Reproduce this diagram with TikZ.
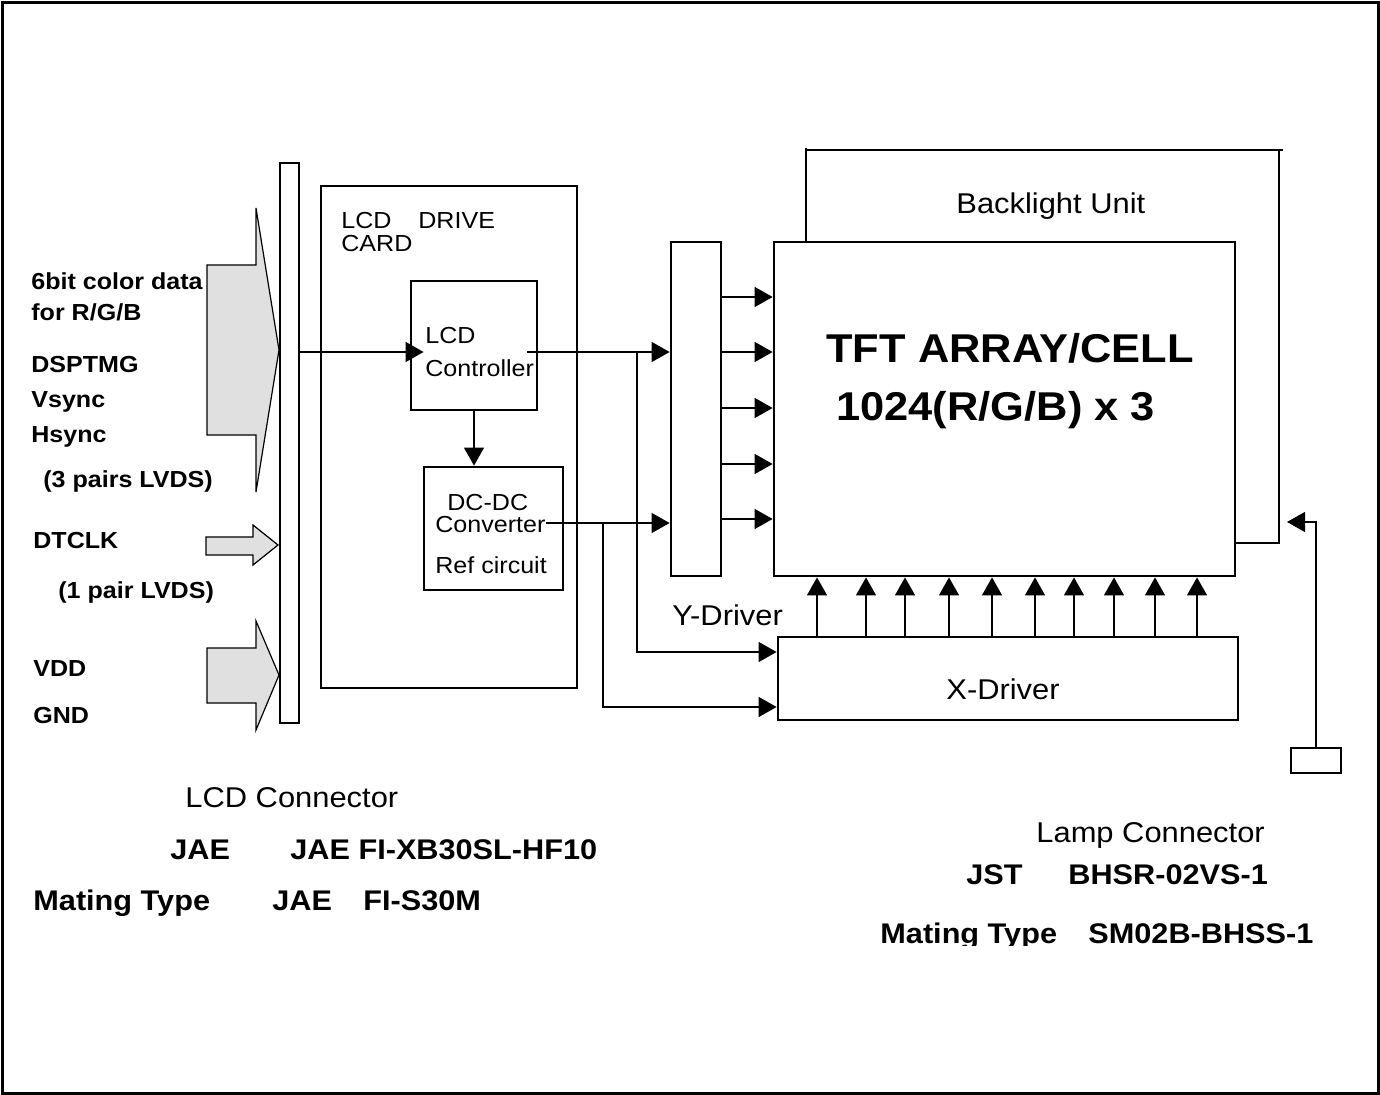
\documentclass[tikz,border=0pt]{standalone}
\usepackage{fontspec}
\setmainfont{Liberation Sans}
\usepackage{graphicx}
\usepackage{tikz}
\usetikzlibrary{arrows.meta}
\definecolor{arrowgray}{RGB}{224,224,224}
\newcommand{\hs}[1]{\scalebox{1.08}[1]{#1}}

\begin{document}
\begin{tikzpicture}[x=0.5pt, y=-0.5pt,
    box/.style={draw, line width=1.4pt, inner sep=0pt},
    wire/.style={line width=0.6pt},
    arr/.style={wire, -{Triangle[length=9pt,width=10pt]}},
    txt/.style={inner sep=0pt, anchor=base west},
    lbltxt/.style={txt, font=\fontsize{11.6}{13}\selectfont\bfseries},
    smalltxt/.style={txt, font=\fontsize{11.6}{13}\selectfont},
    largetxt/.style={txt, font=\fontsize{14.3}{16}\selectfont},
    boldtxt/.style={txt, font=\fontsize{14.2}{16}\selectfont\bfseries},
    titletxt/.style={txt, font=\fontsize{20.1}{22}\selectfont\bfseries},
    bigarrow/.style={draw, line width=0.6pt, fill=arrowgray}]
    \useasboundingbox (0,0) rectangle (1380,1095);
    \draw[line width=1.5pt] (2.5,2.5) rectangle (1378.5,1093.5);

    % Input signals
    \draw[bigarrow] (207,265) -- (256,265) -- (256,208) -- (279,350) -- (256,492) -- (256,435) -- (207,435) -- cycle;
    \draw[bigarrow] (206,537) -- (253,537) -- (253,525) -- (278,545) -- (253,565) -- (253,555) -- (206,555) -- cycle;
    \draw[bigarrow] (207,648) -- (256,648) -- (256,621) -- (279,675) -- (256,730) -- (256,703) -- (207,703) -- cycle;
    \node[lbltxt] (sigA) at (31,290) {\hs{6bit color data}};
    \node[lbltxt] (sigB) at (31,321) {\hs{for R/G/B}};
    \node[lbltxt] (sigC) at (31,373) {\hs{DSPTMG}};
    \node[lbltxt] (sigD) at (31,408) {\hs{Vsync}};
    \node[lbltxt] (sigE) at (31,443) {\hs{Hsync}};
    \node[lbltxt] (sigF) at (43,488) {\hs{(3 pairs LVDS)}};
    \node[lbltxt] (sigG) at (33,549) {\hs{DTCLK}};
    \node[lbltxt] (sigH) at (58,599) {\hs{(1 pair LVDS)}};
    \node[lbltxt] (sigI) at (33,676) {\hs{VDD}};
    \node[lbltxt] (sigJ) at (33,723) {\hs{GND}};

    % Boxes
    \node[box, line width=0.6pt, minimum width=9.5pt, minimum height=280pt] (conn) at (289.5,443) {};
    \node[box, minimum width=128pt, minimum height=251pt] (card) at (449,437) {};
    \node[box, minimum width=63pt, minimum height=64.5pt] (ctrl) at (474,345.5) {};
    \node[box, minimum width=69.5pt, minimum height=61.5pt] (dcdc) at (493.5,528.5) {};
    \node[box, minimum width=25pt, minimum height=167pt] (ydrv) at (696,409) {};
    \node[box, minimum width=230.5pt, minimum height=167pt] (tft) at (1004.5,409) {};
    \node[box, minimum width=230pt, minimum height=41.5pt] (xdrv) at (1008,678.5) {};
    \node[box, line width=0.6pt, minimum width=25pt, minimum height=12.5pt] (lamp) at (1316,760.5) {};

    % Box texts
    \node[smalltxt] (cardA) at (341,229) {\hs{LCD}};
    \node[smalltxt] (cardB) at (418,229) {\hs{DRIVE}};
    \node[smalltxt] (cardC) at (341,252) {\hs{CARD}};
    \node[smalltxt] (ctrlA) at (425,344) {\hs{LCD}};
    \node[smalltxt] (ctrlB) at (425,377) {\hs{Controller}};
    \node[smalltxt] (dcdcA) at (447,511) {\hs{DC-DC}};
    \node[smalltxt] (dcdcB) at (435,533) {\hs{Converter}};
    \node[smalltxt] (dcdcC) at (435,574) {\hs{Ref circuit}};
    \node[titletxt] (tftA) at (826,363) {\hs{TFT ARRAY/CELL}};
    \node[titletxt] (tftB) at (836,421) {\hs{1024(R/G/B) x 3}};
    \node[largetxt] (blu) at (956,214) {\hs{Backlight Unit}};
    \node[largetxt] (ylbl) at (672,625) {\hs{Y-Driver}};
    \node[largetxt] (xlbl) at (946,699) {\hs{X-Driver}};

    % Signal lines
    \draw[arr, shorten >=-7pt] (conn.east |- 0,352) -- (ctrl.west |- 0,352);
    \coordinate (ctrlOut) at (527,352);
    \coordinate (jA) at (637,352);
    \draw[arr] (ctrlOut) -- (ydrv.west |- ctrlOut);
    \draw[arr] (jA) |- (xdrv.west |- 0,652);
    \draw[arr] (ctrl.south) -- (ctrl.south |- dcdc.north);
    \coordinate (dcOut) at (546,523);
    \coordinate (jB) at (603,523);
    \draw[arr] (dcOut) -- (ydrv.west |- dcOut);
    \draw[arr] (jB) |- (xdrv.west |- 0,707);
    \foreach \y in {297,352,408,464,519}
        \draw[arr] (ydrv.east |- 0,\y) -- (tft.west |- 0,\y);
    \foreach \x in {817,866,905,949,992,1035,1074,1114,1155,1197}
        \draw[arr] (xdrv.north -| \x,0) -- (tft.south -| \x,0);

    % Backlight unit
    \coordinate (blL) at (806,150);
    \coordinate (blR) at (1279,150);
    \draw[wire] (tft.north -| blL) -- ([yshift=1pt]blL);
    \draw[wire] (blL) -- ([xshift=2pt]blR);
    \draw[wire] (blR) -- (blR |- 0,543) -- (tft.east |- 0,543);
    \coordinate (lampIn) at (1287,522);
    \draw[arr] (lamp.north) |- (lampIn);

    % Connector data
    \node[largetxt] (lcdCon) at (185,807) {\hs{LCD Connector}};
    \node[boldtxt] (lcdA) at (170,859) {\hs{JAE}};
    \node[boldtxt] (lcdB) at (290,859) {\hs{JAE FI-XB30SL-HF10}};
    \node[boldtxt] (lcdC) at (33,910) {\hs{Mating Type}};
    \node[boldtxt] (lcdD) at (272,910) {\hs{JAE}};
    \node[boldtxt] (lcdE) at (363,910) {\hs{FI-S30M}};
    \node[largetxt] (lampCon) at (1036,842) {\hs{Lamp Connector}};
    \node[boldtxt] (lampA) at (966,884) {\hs{JST}};
    \node[boldtxt] (lampB) at (1068,884) {\hs{BHSR-02VS-1}};
    \begin{scope}
        \clip (850,900) rectangle (1340,945);
        \node[boldtxt] (lampC) at (880,943) {\hs{Mating Type}};
        \node[boldtxt] (lampD) at (1088,943) {\hs{SM02B-BHSS-1}};
    \end{scope}
\end{tikzpicture}
\end{document}
